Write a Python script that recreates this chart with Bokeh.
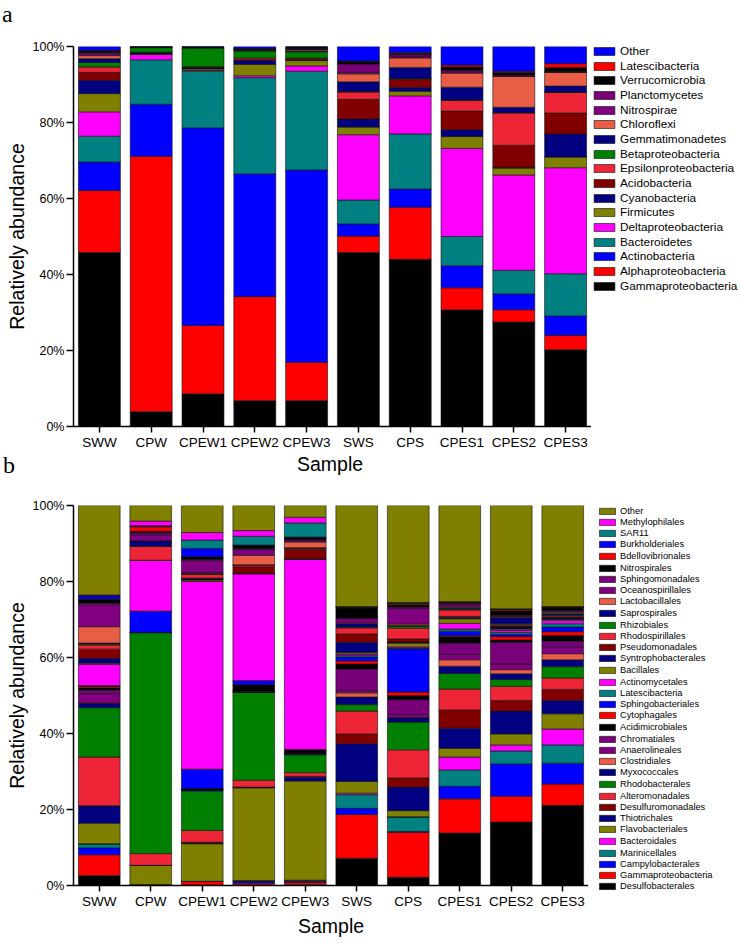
from bokeh.plotting import figure
from bokeh.models import (ColumnDataSource, FactorRange, Range1d, FixedTicker,
                          Legend, LegendItem, Div)
from bokeh.core.properties import value
from bokeh.layouts import column, row
from bokeh.embed import file_html
from bokeh.resources import INLINE

samples = ["SWW", "CPW", "CPEW1", "CPEW2", "CPEW3", "SWS", "CPS", "CPES1", "CPES2", "CPES3"]
y_ticks = [0, 20, 40, 60, 80, 100]
y_tick_labels = ["0%", "20%", "40%", "60%", "80%", "100%"]
x_title = "Sample"
y_title = "Relatively abundance"
panel_letters = ["a", "b"]

# ---------- panel a: phyla (stack order bottom -> top) ----------
phyla = ["Gammaproteobacteria", "Alphaproteobacteria", "Actinobacteria", "Bacteroidetes",
         "Deltaproteobacteria", "Firmicutes", "Cyanobacteria", "Acidobacteria",
         "Epsilonproteobacteria", "Betaproteobacteria", "Gemmatimonadetes", "Chloroflexi",
         "Nitrospirae", "Planctomycetes", "Verrucomicrobia", "Latescibacteria", "Other"]

a_SWW   = [45.8, 16.3, 7.5, 6.8, 6.4, 4.8, 3.5, 2.1, 1.4, 1.2, 1.0, 0.8, 0.5, 0.3, 0.4, 0.2, 1.0]
a_CPW   = [3.9, 67.2, 13.7, 11.7, 1.4, 0.1, 0.3, 0.1, 0.1, 1.2, 0.1, 0.0, 0.0, 0.0, 0.1, 0.0, 0.1]
a_CPEW1 = [8.6, 18.0, 52.0, 14.9, 0.2, 0.4, 0.3, 0.2, 0.1, 4.9, 0.1, 0.1, 0.0, 0.0, 0.1, 0.0, 0.1]
a_CPEW2 = [6.8, 27.4, 32.3, 25.3, 0.5, 3.0, 1.0, 0.3, 0.4, 1.8, 0.2, 0.1, 0.1, 0.1, 0.1, 0.1, 0.5]
a_CPEW3 = [6.8, 10.1, 50.6, 26.0, 1.4, 1.4, 0.2, 0.3, 0.2, 1.6, 0.3, 0.3, 0.1, 0.1, 0.5, 0.0, 0.1]
a_SWS   = [45.8, 4.3, 3.2, 6.3, 17.2, 2.0, 2.1, 5.2, 1.9, 0.2, 2.5, 2.1, 0.4, 2.2, 0.7, 0.1, 3.8]
a_CPS   = [44.0, 13.7, 4.8, 14.5, 10.0, 1.2, 1.0, 2.1, 0.2, 0.1, 2.9, 2.5, 0.5, 0.4, 0.3, 0.2, 1.6]
a_CPES1 = [30.7, 5.8, 5.8, 7.7, 23.2, 3.1, 1.8, 4.9, 2.8, 0.1, 3.4, 3.7, 0.4, 0.4, 0.8, 0.5, 4.9]
a_CPES2 = [27.5, 3.2, 4.2, 6.2, 25.1, 1.8, 0.2, 5.8, 8.5, 0.1, 1.4, 8.1, 0.2, 0.2, 0.7, 0.3, 6.5]
a_CPES3 = [20.2, 3.8, 5.1, 11.1, 27.9, 2.8, 6.1, 5.5, 5.4, 0.1, 1.6, 3.6, 0.1, 0.1, 1.1, 1.0, 4.5]
a_rows = [a_SWW, a_CPW, a_CPEW1, a_CPEW2, a_CPEW3, a_SWS, a_CPS, a_CPES1, a_CPES2, a_CPES3]

# ---------- panel b: orders (stack order bottom -> top) ----------
orders = ["Desulfobacterales", "Gammaproteobacteria", "Campylobacterales", "Marinicellales",
          "Bacteroidales", "Flavobacteriales", "Thiotrichales", "Desulfuromonadales",
          "Alteromonadales", "Rhodobacterales", "Myxococcales", "Clostridiales",
          "Anaerolineales", "Chromatiales", "Acidimicrobiales", "Cytophagales",
          "Sphingobacteriales", "Latescibacteria", "Actinomycetales", "Bacillales",
          "Syntrophobacterales", "Pseudomonadales", "Rhodospirillales", "Rhizobiales",
          "Saprospirales", "Lactobacillales", "Oceanospirillales", "Sphingomonadales",
          "Nitrospirales", "Bdellovibrionales", "Burkholderiales", "SAR11",
          "Methylophilales", "Other"]

b_SWW   = [2.6, 5.5, 1.8, 1.0, 0.1, 5.4, 4.5, 0.1, 12.8, 13.0, 1.1, 0.1, 2.5, 0.9, 0.6, 0.4, 0.1,
           0.1, 5.6, 0.3, 1.3, 2.4, 1.1, 0.3, 0.2, 4.3, 5.8, 0.4, 1.0, 0.1, 0.8, 0.1, 0.2, 23.5]
b_CPW   = [0.1, 0.1, 0.0, 0.0, 0.0, 5.1, 0.0, 0.0, 3.1, 58.1, 0.1, 0.0, 0.0, 0.0, 0.0, 0.0, 5.6,
           0.0, 13.4, 0.0, 0.0, 0.0, 3.7, 0.0, 1.4, 0.0, 1.6, 0.5, 0.4, 1.2, 0.2, 0.1, 1.2, 4.1]
b_CPEW1 = [0.1, 1.0, 0.0, 0.0, 0.0, 9.9, 0.2, 0.2, 3.1, 10.4, 0.4, 0.0, 0.1, 0.0, 0.1, 0.0, 5.1,
           0.0, 49.4, 0.4, 0.3, 0.2, 1.0, 0.1, 0.2, 0.2, 3.1, 0.3, 0.7, 0.0, 2.2, 2.2, 2.0, 7.1]
b_CPEW2 = [0.1, 0.5, 0.5, 0.1, 0.1, 24.4, 0.1, 0.1, 1.8, 23.1, 0.1, 0.1, 0.1, 0.0, 1.7, 0.0, 1.1,
           0.0, 28.1, 0.1, 0.1, 1.7, 0.5, 0.0, 0.0, 2.5, 1.5, 0.2, 0.8, 0.1, 0.1, 2.3, 1.5, 6.6]
b_CPEW3 = [0.2, 0.6, 0.3, 0.2, 0.1, 26.1, 1.0, 0.2, 1.0, 4.7, 0.2, 0.1, 0.1, 0.1, 0.8, 0.0, 0.1,
           0.0, 50.0, 0.1, 0.1, 2.4, 0.3, 0.1, 0.1, 1.5, 0.4, 0.2, 0.5, 0.1, 0.1, 3.7, 1.5, 3.1]
b_SWS   = [7.2, 11.5, 1.6, 3.6, 0.4, 3.1, 9.9, 2.6, 6.0, 1.7, 2.0, 1.1, 0.6, 5.7, 1.3, 0.8, 1.0,
           0.4, 0.4, 0.4, 2.7, 2.2, 1.6, 0.2, 0.9, 0.2, 1.1, 0.2, 2.6, 0.1, 0.1, 0.1, 0.1, 26.6]
b_CPS   = [2.2, 11.8, 0.2, 3.8, 0.1, 1.6, 6.2, 2.4, 7.4, 7.3, 1.1, 0.1, 0.8, 3.9, 1.1, 0.9, 11.4,
           0.2, 0.3, 1.0, 0.3, 0.8, 2.8, 0.5, 0.2, 0.4, 4.1, 0.4, 0.6, 0.3, 0.1, 0.1, 0.1, 25.5]
b_CPES1 = [13.8, 9.0, 3.3, 4.3, 3.4, 2.3, 5.3, 4.8, 5.5, 4.1, 1.9, 1.7, 1.4, 3.0, 1.7, 0.3, 1.1,
           0.6, 1.5, 1.2, 0.3, 0.3, 1.7, 0.3, 0.3, 0.2, 0.6, 0.3, 0.3, 0.1, 0.1, 0.0, 0.0, 25.3]
b_CPES2 = [16.7, 6.8, 8.5, 3.4, 1.6, 2.9, 6.0, 2.8, 3.7, 1.8, 1.5, 1.1, 1.5, 5.7, 0.6, 0.9, 0.6,
           0.5, 0.5, 0.4, 0.5, 0.3, 0.3, 0.3, 1.5, 0.2, 0.2, 0.3, 1.2, 0.3, 0.1, 0.1, 0.0, 27.2]
b_CPES3 = [21.1, 5.6, 5.5, 4.8, 4.2, 4.0, 3.5, 2.9, 3.0, 3.0, 1.8, 1.6, 1.7, 1.6, 1.5, 1.0, 1.2,
           0.9, 0.8, 0.3, 0.4, 0.3, 0.3, 0.2, 0.4, 0.3, 0.3, 0.2, 0.6, 0.2, 0.1, 0.1, 0.0, 26.6]
b_rows = [b_SWW, b_CPW, b_CPEW1, b_CPEW2, b_CPEW3, b_SWS, b_CPS, b_CPES1, b_CPES2, b_CPES3]

# ---------- colours ----------
palette14 = ["#000000", "#FF0000", "#0000FF", "#008080", "#FF00FF", "#808000", "#000080",
             "#800000", "#EE2536", "#008000", "#000080", "#E85D45", "#800080", "#780078"]
colors_a = (palette14 * 3)[:len(phyla)]
colors_b = (palette14 * 3)[:len(orders)]

FONT = "Liberation Sans"
SERIF = "Liberation Serif"
TOTAL_W = 740
TOTAL_H = 942
LEFT_W = 591
EDGE = "#111111"


def make_source(names, rows):
    data = {"sample": samples}
    for j, n in enumerate(names):
        data[n] = [r[j] for r in rows]
    return ColumnDataSource(data)


def style_axes(p, with_xlabel):
    for ax in (p.xaxis[0], p.yaxis[0]):
        ax.axis_line_color = "black"
        ax.axis_line_width = 1.5
        ax.major_tick_line_color = "black"
        ax.major_tick_line_width = 1.5
        ax.major_tick_in = 0
        ax.minor_tick_line_color = None
        ax.major_label_text_color = "black"
        ax.major_label_text_font = FONT
        ax.axis_label_text_font = FONT
        ax.axis_label_text_font_style = "normal"
        ax.axis_label_text_color = "black"
    xa, ya = p.xaxis[0], p.yaxis[0]
    xa.major_tick_out = 6
    xa.major_label_standoff = 2
    xa.major_label_text_font_size = "13.5px"
    if with_xlabel:
        xa.axis_label = x_title
        xa.axis_label_text_font_size = "19.5px"
        xa.axis_label_standoff = 3
    ya.ticker = FixedTicker(ticks=y_ticks)
    ya.major_label_overrides = dict(zip(y_ticks, y_tick_labels))
    ya.major_tick_out = 7
    ya.major_label_standoff = 2
    ya.major_label_text_font_size = "12.5px"
    ya.axis_label = y_title
    ya.axis_label_text_font_size = "19.5px"
    ya.axis_label_standoff = 2
    p.xgrid.visible = False
    p.ygrid.visible = False
    p.outline_line_color = None


def make_panel(names, rows, colors, width, height, left, top, bottom, with_xlabel):
    src = make_source(names, rows)
    p = figure(x_range=FactorRange(*samples), y_range=Range1d(0, 100),
               width=width, height=height, title=None,
               output_backend="svg", toolbar_location=None,
               min_border_left=left, min_border_right=0,
               min_border_top=top, min_border_bottom=bottom)
    p.vbar_stack(names, x="sample", width=0.81, color=colors,
                 line_color=EDGE, line_width=0.6, source=src)
    style_axes(p, with_xlabel)
    return p


# The keys live in their own narrow figure on the right. Its stacked-bar renderers
# are hidden: they only supply the legend swatches.
key_fig = figure(width=TOTAL_W - LEFT_W, height=TOTAL_H,
                 x_range=FactorRange(*samples), y_range=Range1d(-2, -1),
                 x_axis_type=None, y_axis_type=None, title=None,
                 output_backend="svg", toolbar_location=None, min_border=0)
key_fig.outline_line_color = None


def add_keys(names, rows, colors, pattern, top, x, gh, gw, fs):
    """Legend column split into consecutive blocks whose row heights follow
    `pattern` ((count, row_height), ...) so the mean row pitch matches the figure."""
    src = make_source(names, rows)
    rends = key_fig.vbar_stack(names, x="sample", width=0.81, color=colors,
                               line_color=EDGE, line_width=0.6, source=src)
    for r in rends:
        r.visible = False
    items = [LegendItem(label=value(n), renderers=[r]) for n, r in zip(names, rends)][::-1]
    i, y, k = 0, top, 0
    while i < len(items):
        cnt, h = pattern[k % len(pattern)]
        cnt = min(cnt, len(items) - i)
        bottom_from_base = TOTAL_H - (y + cnt * h)
        key_fig.add_layout(Legend(items=items[i:i + cnt], location=(x, bottom_from_base),
                                  orientation="vertical", padding=0, margin=0, spacing=0,
                                  click_policy="none",
                                  label_height=h, glyph_height=gh, glyph_width=gw,
                                  label_standoff=3, label_text_font=FONT,
                                  label_text_font_size=fs, label_text_color="black",
                                  border_line_color=None, background_fill_alpha=0))
        i += cnt
        y += cnt * h
        k += 1


add_keys(phyla, a_rows, colors_a, [(2, 15), (1, 14)], 43, 0, 10, 26, "11.8px")
add_keys(orders, b_rows, colors_b, [(3, 11), (2, 12)], 505, 6, 8, 20, "9.3px")


def letter_span(txt, left, top):
    return ('<span style="position:absolute;left:%dpx;top:%dpx;font-family:\'%s\';'
            'font-size:24px;line-height:24px;color:#000;">%s</span>' % (left, top, SERIF, txt))


# header with panel letter "a" (page y 0..30)
div_a = Div(text='<div style="position:relative;width:%dpx;height:30px;">%s</div>'
            % (LEFT_W, letter_span(panel_letters[0], 2, 2)),
            width=LEFT_W, height=30, margin=0)

# panel a (page y 30..452)
pa = make_panel(phyla, a_rows, colors_a, LEFT_W, 422, 73, 16, 26, False)

# strip between panels: "Sample" title of panel a and letter "b" (page y 452..480)
div_mid = Div(text=('<div style="position:relative;width:%dpx;height:28px;">%s'
                    '<span style="position:absolute;left:330px;top:2px;transform:translateX(-50%%);'
                    'font-family:\'%s\';font-size:19.5px;line-height:20px;color:#000;'
                    'white-space:nowrap;">%s</span></div>')
              % (LEFT_W, letter_span(panel_letters[1], 3, 1), FONT, x_title),
              width=LEFT_W, height=28, margin=0)

# panel b (page y 480..942)
pb = make_panel(orders, b_rows, colors_b, 588, 462, 72, 25, 57, True)

left_col = column(div_a, pa, div_mid, pb, spacing=0)
layout = row(left_col, key_fig, spacing=0)
open("out.html", "w").write(file_html(layout, INLINE))
